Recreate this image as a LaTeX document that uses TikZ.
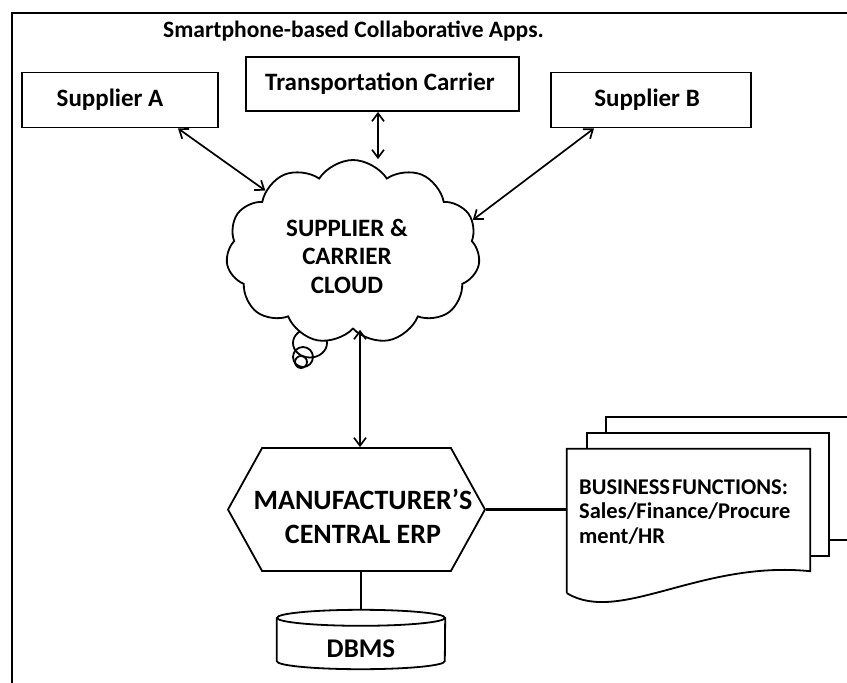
\documentclass[tikz,border=0pt]{standalone}
\usepackage{fontspec}
\setmainfont{Carlito}
\usetikzlibrary{shapes.symbols,arrows.meta}
\begin{document}
\begin{tikzpicture}[x=1pt,y=-1pt,
  box/.style={draw, line width=1.8pt, inner sep=0pt, fill=white},
  lbl/.style={font=\bfseries\fontsize{25}{28}\selectfont},
  arr/.style={line width=1.7pt, {Straight Barb[length=8pt,width=12pt]}-{Straight Barb[length=8pt,width=12pt]}},
  thin/.style={line width=1.8pt}]
\useasboundingbox (0,0) rectangle (847,683);
\clip (0,0) rectangle (847,683);
\fill[white] (0,0) rectangle (847,683);
% frame
\draw[line width=2.5pt] (12,720) -- (12,13) -- (880,13);
% title
\node[font=\bfseries\fontsize{23.5}{26}\selectfont, anchor=west, inner sep=0pt] (title) at (163,31) {Smartphone-based Collaborative Apps.};
% top boxes
\node[box, lbl, minimum width=196pt, minimum height=55pt] (supA) at (120,100) {\kern-20pt Supplier A};
\node[box, lbl, minimum width=273pt, minimum height=54pt] (trans) at (382.5,84) {\kern-5pt Transportation Carrier};
\node[box, lbl, minimum width=200pt, minimum height=55pt] (supB) at (651,100) {\kern-8pt Supplier B};
% thought bubbles
\draw[thin] (310,343) ellipse [x radius=17, y radius=14.5];
\draw[thin] (303,357) circle [radius=10];
\draw[thin] (301,362) circle [radius=6];
% cloud
\node[cloud, draw, fill=white, line width=1.8pt, cloud puffs=11, cloud puff arc=115, aspect=1.4,
      minimum width=254pt, minimum height=184pt, inner sep=0pt] (cloud) at (353,252) {};
\node[align=center, font=\bfseries\fontsize{25}{28.5}\selectfont] (cloudtext) at (347,256) {SUPPLIER \&\\CARRIER\\CLOUD};
% ERP
\node[signal, signal to=west and east, signal pointer angle=122, draw, line width=1.8pt,
      minimum width=257pt, minimum height=123pt, inner sep=0pt] (erp) at (356.5,509.5) {};
\node[align=center, font=\bfseries\fontsize{28}{34}\selectfont] (erptext) at (363,516) {MANUFACTURER’S\\CENTRAL ERP};
% DBMS
\node[minimum width=168pt, minimum height=59pt, inner sep=0pt] (dbms) at (361,639.5) {};
\draw[thin] ([yshift=-8pt]dbms.north west) -- ([yshift=8pt]dbms.south west)
   arc[start angle=180, end angle=0, x radius=84, y radius=8] -- ([yshift=-8pt]dbms.north east);
\draw[thin] ([yshift=-8pt]dbms.north) ellipse [x radius=84, y radius=8];
\node[font=\bfseries\fontsize{27}{30}\selectfont] (dbmslbl) at ([yshift=-9pt]dbms.center) {DBMS};
% documents
\node[minimum width=243pt, minimum height=144pt, inner sep=0pt] (doc) at (688.5,521) {};
\draw[thin, fill=white] (606,417) rectangle (880,540);
\draw[thin, fill=white] (587,433) rectangle (829,556);
\draw[thin, fill=white] (doc.south west) -- (doc.north west) -- (doc.north east) -- ([yshift=22pt]doc.south east)
   .. controls (700,560) and (620,625) .. (doc.south west);
\node[anchor=west, align=left, inner sep=0pt, font=\bfseries\fontsize{22.5}{24.5}\selectfont] (doctext) at (579,512)
   {BUSINESS\kern-3pt\ FUNCTIONS:\\Sales/Finance/Procure\\ment/HR};
% connectors
\draw[arr] ([xshift=58pt]supA.south) -- (cloud.145);
\draw[arr] ([xshift=-4.5pt]trans.south) -- ([xshift=-4.5pt]trans.south |- cloud.north);
\draw[arr] ([xshift=-57pt]supB.south) -- (cloud.15);
\draw[arr] ([xshift=3.5pt]erp.north |- cloud.south) -- ([xshift=3.5pt]erp.north);
\draw[line width=3pt] (erp.east) -- (erp.east -| doc.west);
\draw[thin] (dbms.north |- erp.south) -- (dbms.north);
\end{tikzpicture}
\end{document}
